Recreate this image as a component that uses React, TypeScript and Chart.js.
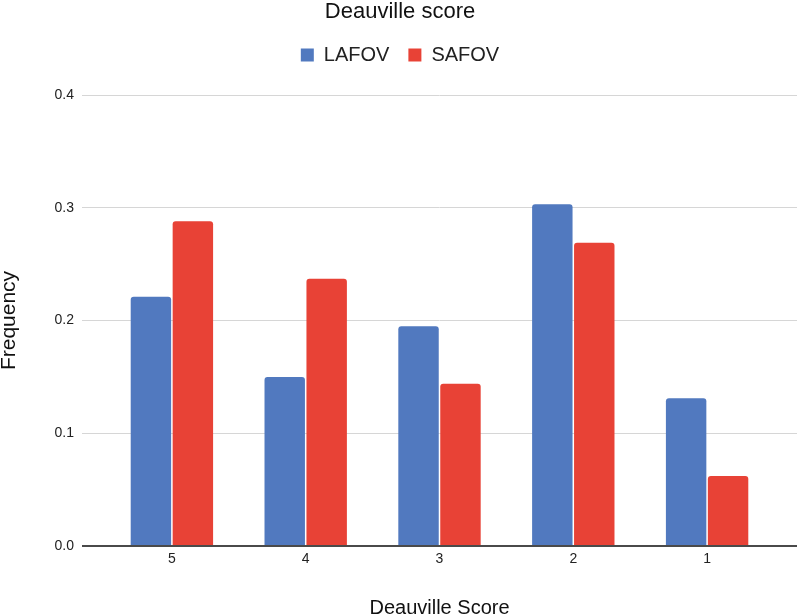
import React, { useEffect, useRef } from "react";
import { Chart, registerables } from "chart.js";

Chart.register(...registerables);

const categories = ["5", "4", "3", "2", "1"];
const lafovValues = [0.221, 0.15, 0.195, 0.303, 0.131];
const safovValues = [0.288, 0.237, 0.144, 0.269, 0.062];
const seriesNames = ["LAFOV", "SAFOV"];
const yTicks = [0, 0.1, 0.2, 0.3, 0.4];

const FONT = "'Liberation Sans', Arial, Helvetica, sans-serif";
const BLUE = "#5179BF";
const RED = "#E84236";
const GRID = "#d6d6d6";
const ZERO = "#4a4a4a";

export default function App() {
  const ref = useRef<HTMLCanvasElement | null>(null);

  useEffect(() => {
    if (!ref.current) return;
    const gridColor = (c: any) => (c.tick && c.tick.value === 0 ? ZERO : GRID);
    const gridWidth = (c: any) => (c.tick && c.tick.value === 0 ? 2 : 1);
    const chart = new Chart(ref.current, {
      type: "bar",
      data: {
        labels: categories,
        datasets: [
          {
            label: seriesNames[0],
            data: lafovValues,
            backgroundColor: BLUE,
            borderWidth: 0,
            borderRadius: 3,
            borderSkipped: "start",
            barPercentage: 0.964,
            categoryPercentage: 0.627,
          },
          {
            label: seriesNames[1],
            data: safovValues,
            backgroundColor: RED,
            borderWidth: 0,
            borderRadius: 3,
            borderSkipped: "start",
            barPercentage: 0.964,
            categoryPercentage: 0.627,
          },
        ],
      },
      options: {
        animation: false,
        responsive: true,
        maintainAspectRatio: false,
        layout: { padding: 0 },
        plugins: {
          title: {
            display: true,
            text: "Deauville score",
            color: "#111",
            font: { family: FONT, size: 22, weight: "normal", lineHeight: 1 },
            padding: { top: 1, bottom: 3 },
          },
          legend: {
            display: true,
            position: "top",
            labels: {
              color: "#222",
              font: { family: FONT, size: 20 },
              boxWidth: 13,
              boxHeight: 13,
              padding: 19,
            },
          },
          tooltip: { enabled: false },
        },
        scales: {
          x: {
            type: "category",
            position: "bottom",
            grid: { display: false, drawTicks: false },
            border: { display: false },
            ticks: {
              color: "#222",
              font: { family: FONT, size: 14 },
              padding: 5,
            },
            title: {
              display: true,
              text: "Deauville Score",
              color: "#111",
              font: { family: FONT, size: 20, lineHeight: 0.7 },
              padding: 0,
            },
            afterFit: (s: any) => {
              s.height = 69;
            },
          },
          x2: {
            type: "category",
            position: "top",
            labels: categories,
            grid: { display: false, drawTicks: false },
            border: { display: false },
            ticks: { display: false },
            afterFit: (s: any) => {
              s.height = 20;
            },
          },
          y: {
            type: "linear",
            position: "left",
            min: 0,
            max: 0.4,
            afterBuildTicks: (s: any) => {
              s.ticks = yTicks.map((v) => ({ value: v }));
            },
            grid: {
              color: gridColor,
              lineWidth: gridWidth,
              drawTicks: true,
              tickLength: 23,
            },
            border: { display: false },
            ticks: {
              color: "#222",
              font: { family: FONT, size: 14 },
              padding: 8,
              callback: (v: any) => Number(v).toFixed(1),
            },
            title: {
              display: true,
              text: "Frequency",
              color: "#111",
              font: { family: FONT, size: 21, lineHeight: 1 },
              padding: { top: -1, bottom: 0 },
            },
            afterFit: (s: any) => {
              s.width = 105;
            },
          },
          y2: {
            type: "linear",
            position: "right",
            min: 0,
            max: 0.4,
            afterBuildTicks: (s: any) => {
              s.ticks = yTicks.map((v) => ({ value: v }));
            },
            grid: {
              color: gridColor,
              lineWidth: gridWidth,
              drawOnChartArea: false,
              drawTicks: true,
              tickLength: 23,
            },
            border: { display: false },
            ticks: { display: false },
            afterFit: (s: any) => {
              s.width = 26;
            },
          },
        },
      },
    });
    return () => chart.destroy();
  }, []);

  return (
    <div
      style={{
        position: "absolute",
        left: 0,
        top: 0,
        width: 800,
        height: 615,
        background: "#fff",
      }}
    >
      <canvas ref={ref} />
    </div>
  );
}
